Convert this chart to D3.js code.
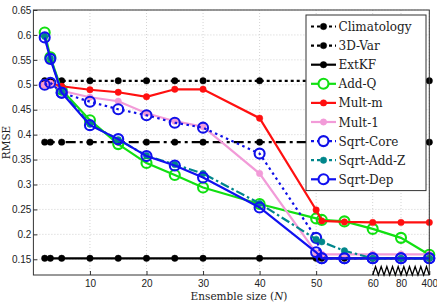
<!DOCTYPE html>
<html>
<head>
<meta charset="utf-8">
<script src="https://cdn.jsdelivr.net/npm/d3@7"></script>
<style>
  body { margin: 0; background: #fff; }
  svg { display: block; }
</style>
</head>
<body>
<svg id="chart" width="437" height="303"></svg>
<script>
// ensemble sizes (x), the axis is broken after 60
const ensembleN = [2, 3, 5, 10, 15, 20, 25, 30, 40, 50, 51, 55, 60, 80, 400];
const xTicks = [10, 20, 30, 40, 50, 60, 80, 400];
const yTicks = [0.15, 0.2, 0.25, 0.3, 0.35, 0.4, 0.45, 0.5, 0.55, 0.6, 0.65];

const climatology = [0.508, 0.508, 0.508, 0.508, 0.508, 0.508, 0.508, 0.508, 0.508, 0.508, 0.508, 0.508, 0.508, 0.508, 0.508];
const threeDVar   = [0.385, 0.385, 0.385, 0.385, 0.385, 0.385, 0.385, 0.385, 0.385, 0.385, 0.385, 0.385, 0.385, 0.385, 0.385];
const extKF       = [0.152, 0.152, 0.152, 0.152, 0.152, 0.152, 0.152, 0.152, 0.152, 0.152, 0.152, 0.152, 0.152, 0.152, 0.152];
const addQ        = [0.605, 0.555, 0.490, 0.429, 0.381, 0.343, 0.319, 0.294, 0.261, 0.232, 0.229, 0.226, 0.211, 0.193, 0.159];
const multM       = [0.500, 0.503, 0.497, 0.490, 0.485, 0.476, 0.491, 0.491, 0.433, 0.249, 0.227, 0.225, 0.224, 0.224, 0.224];
const mult1       = [0.500, 0.503, 0.488, 0.475, 0.467, 0.443, 0.427, 0.416, 0.322, 0.163, 0.160, 0.160, 0.160, 0.160, 0.160];
const sqrtCore    = [0.500, 0.504, 0.484, 0.466, 0.451, 0.439, 0.424, 0.414, 0.362, 0.193, 0.152, 0.152, 0.152, 0.152, 0.152];
const sqrtAddZ    = [0.597, 0.553, 0.487, 0.421, 0.390, 0.358, 0.340, 0.322, 0.262, 0.190, 0.185, 0.167, 0.152, 0.152, 0.152];
const sqrtDep     = [0.595, 0.552, 0.484, 0.419, 0.391, 0.357, 0.338, 0.314, 0.254, 0.164, 0.152, 0.152, 0.152, 0.152, 0.152];

const series = [
  {name: "Climatology", values: climatology, color: "#000", dash: "3,3", marker: "dot"},
  {name: "3D-Var", values: threeDVar, color: "#000", dash: "10,4,3,4", marker: "dot"},
  {name: "ExtKF", values: extKF, color: "#000", dash: null, marker: "dot"},
  {name: "Add-Q", values: addQ, color: "#11e011", dash: null, marker: "circle"},
  {name: "Mult-m", values: multM, color: "#ff1010", dash: null, marker: "dot"},
  {name: "Mult-1", values: mult1, color: "#f29bd8", dash: null, marker: "dot"},
  {name: "Sqrt-Core", values: sqrtCore, color: "#1010e8", dash: "2.5,3.5", marker: "circle"},
  {name: "Sqrt-Add-Z", values: sqrtAddZ, color: "#00868b", dash: "9,3,2.5,3", marker: "dot"},
  {name: "Sqrt-Dep", values: sqrtDep, color: "#1010f0", dash: null, marker: "circle"}
];

const svg = d3.select("#chart");
const plotL = 33.4, plotR = 429.3, plotT = 10, plotB = 275;

// piecewise x scale: linear up to 60, then 60 / 80 / 400 evenly spaced
let x = d3.scaleLinear()
  .domain([0, 60, 80, 400])
  .range([plotL, 372.7, 401, plotR]);
let y = d3.scaleLinear()
  .domain([0.1185, 0.65])
  .range([plotB, plotT]);

// grid
let grid = svg.append("g");
grid.selectAll("line.gx")
  .data(xTicks)
  .enter().append("line")
  .attr("x1", d => x(d)).attr("x2", d => x(d))
  .attr("y1", plotT).attr("y2", plotB)
  .attr("stroke", "#c8c8c8").attr("stroke-width", 0.8)
  .attr("stroke-dasharray", "1,2");
grid.selectAll("line.gy")
  .data(yTicks)
  .enter().append("line")
  .attr("x1", plotL).attr("x2", plotR)
  .attr("y1", d => y(d)).attr("y2", d => y(d))
  .attr("stroke", "#c8c8c8").attr("stroke-width", 0.8)
  .attr("stroke-dasharray", "1,2");

// axes
let xAxis = d3.axisBottom(x).tickValues(xTicks).tickSizeInner(-4).tickSizeOuter(0).tickPadding(4.5);
let yAxis = d3.axisLeft(y).tickValues(yTicks).tickSizeInner(-4).tickSizeOuter(0).tickPadding(2)
  .tickFormat(d3.format("~g"));

let gx = svg.append("g").attr("transform", `translate(0,${plotB})`).call(xAxis);
let gy = svg.append("g").attr("transform", `translate(${plotL},0)`).call(yAxis);
[gx, gy].forEach(g => {
  g.select(".domain").remove();
  g.selectAll("line").attr("stroke", "#333");
  g.selectAll("text")
    .attr("font-family", "'Liberation Sans', Arial, sans-serif")
    .attr("font-size", 10)
    .attr("fill", "#222");
});

// lines
let line = d3.line()
  .x((d, i) => x(ensembleN[i]))
  .y(d => y(d));

let body = svg.append("g");
series.forEach(s => {
  body.append("path")
    .attr("d", line(s.values))
    .attr("fill", "none")
    .attr("stroke", s.color)
    .attr("stroke-width", 2.2)
    .attr("stroke-dasharray", s.dash);
  body.selectAll(null)
    .data(s.values)
    .enter().append("circle")
    .attr("cx", (d, i) => x(ensembleN[i]))
    .attr("cy", d => y(d))
    .attr("r", s.marker === "dot" ? 3.2 : 5)
    .attr("fill", s.marker === "dot" ? s.color : "none")
    .attr("stroke", s.color)
    .attr("stroke-width", s.marker === "dot" ? 0.5 : 2.1);
});

// box
svg.append("rect")
  .attr("x", plotL).attr("y", plotT)
  .attr("width", plotR - plotL).attr("height", plotB - plotT)
  .attr("fill", "none").attr("stroke", "#333").attr("stroke-width", 1);

// axis break zigzag between 60 and 400
let zz = [];
let nTeeth = 10;
let z0 = x(60), z1 = x(400);
for (let i = 0; i <= nTeeth * 2; i++) {
  zz.push([z0 + (z1 - z0) * i / (nTeeth * 2), i % 2 === 0 ? plotB : plotB - 8.5]);
}
svg.append("path")
  .attr("d", d3.line()(zz))
  .attr("fill", "none").attr("stroke", "#000").attr("stroke-width", 1.3);

// labels
svg.append("text")
  .attr("x", 239).attr("y", 300)
  .attr("text-anchor", "middle")
  .attr("font-family", "'DejaVu Serif', serif")
  .attr("font-size", 10.5)
  .attr("fill", "#222")
  .html('Ensemble size (<tspan font-style="italic">N</tspan>)');

svg.append("text")
  .attr("transform", `translate(10,${(plotT + plotB) / 2}) rotate(-90)`)
  .attr("text-anchor", "middle")
  .attr("font-family", "'DejaVu Serif', serif")
  .attr("font-size", 10.5)
  .attr("fill", "#222")
  .text("RMSE");

// legend
let legend = svg.append("g");
legend.append("rect")
  .attr("x", 306).attr("y", 15)
  .attr("width", 120).attr("height", 175.6)
  .attr("fill", "#fff").attr("stroke", "#333").attr("stroke-width", 1);

let item = legend.selectAll("g.item")
  .data(series)
  .enter().append("g")
  .attr("transform", (d, i) => `translate(0,${26.5 + i * 19.1})`);
item.append("line")
  .attr("x1", 311).attr("x2", 336)
  .attr("y1", 0).attr("y2", 0)
  .attr("stroke", d => d.color)
  .attr("stroke-width", 2.2)
  .attr("stroke-dasharray", d => d.dash ? "3,3" : null);
item.append("circle")
  .attr("cx", 323.5).attr("cy", 0)
  .attr("r", d => d.marker === "dot" ? 3.2 : 5)
  .attr("fill", d => d.marker === "dot" ? d.color : "#fff")
  .attr("stroke", d => d.color)
  .attr("stroke-width", d => d.marker === "dot" ? 0.5 : 2.1);
item.append("text")
  .attr("x", 338.5).attr("y", 4.5)
  .attr("font-family", "'DejaVu Serif', serif")
  .attr("font-size", 12)
  .attr("fill", "#222")
  .text(d => d.name);
</script>
</body>
</html>
